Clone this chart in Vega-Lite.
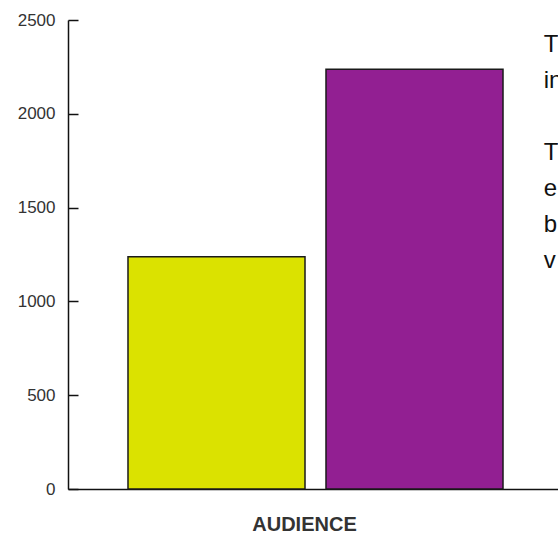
{
  "$schema": "https://vega.github.io/schema/vega-lite/v6.json",
  "autosize": {"type": "none"},
  "padding": {"left": 68, "top": 20, "right": 0, "bottom": 49},
  "width": 495,
  "height": 469,
  "background": "white",
  "title": {
    "text": ["T", "in", "\u200b", "T", "e", "b", "v"],
    "orient": "right",
    "anchor": "start",
    "frame": "group",
    "angle": 0,
    "align": "left",
    "baseline": "alphabetic",
    "offset": -38,
    "dy": 32,
    "font": "Liberation Sans",
    "fontSize": 24,
    "fontWeight": "normal",
    "lineHeight": 36,
    "color": "#111111"
  },
  "data": {
    "values": [
      {"group": "A", "audience": 1238},
      {"group": "B", "audience": 2237}
    ]
  },
  "mark": {"type": "bar", "stroke": "#1a1a1a", "strokeWidth": 1.5},
  "encoding": {
    "x": {
      "field": "group",
      "type": "nominal",
      "sort": ["A", "B"],
      "scale": {"paddingInner": 0.106, "paddingOuter": 0.303},
      "axis": {
        "title": "AUDIENCE",
        "labels": false,
        "ticks": false,
        "domainColor": "#111111",
        "domainWidth": 1.5,
        "titleFont": "Liberation Sans",
        "titleFontSize": 20,
        "titleFontWeight": "bold",
        "titleColor": "#333333",
        "titleX": 236,
        "titlePadding": 25
      }
    },
    "y": {
      "field": "audience",
      "type": "quantitative",
      "scale": {"domain": [0, 2500], "nice": false},
      "axis": {
        "title": null,
        "values": [0, 500, 1000, 1500, 2000, 2500],
        "format": "d",
        "grid": false,
        "domainColor": "#111111",
        "domainWidth": 1.5,
        "tickColor": "#111111",
        "tickWidth": 1.5,
        "tickSize": -10,
        "labelPadding": 23,
        "labelFont": "Liberation Sans",
        "labelFontSize": 17,
        "labelColor": "#333333"
      }
    },
    "fill": {
      "field": "group",
      "type": "nominal",
      "scale": {"domain": ["A", "B"], "range": ["#dbe200", "#921f92"]},
      "legend": null
    }
  },
  "config": {"view": {"stroke": null}}
}
